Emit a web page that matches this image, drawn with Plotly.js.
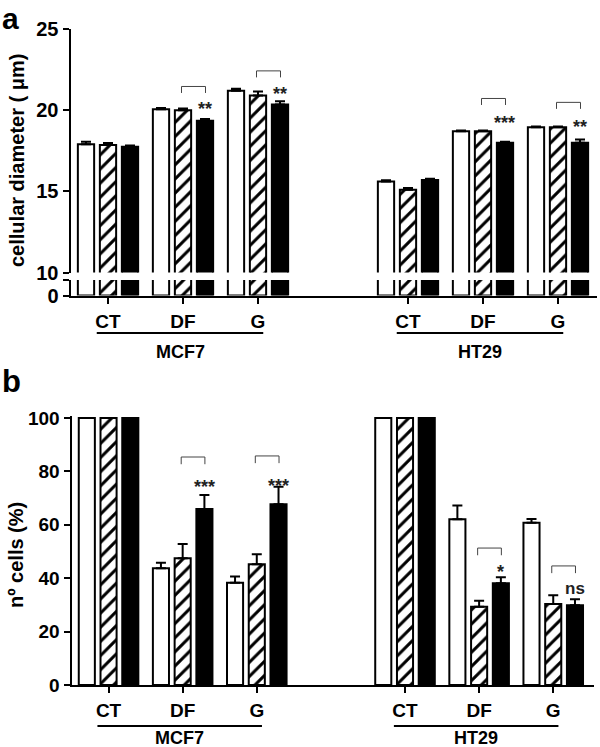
<!DOCTYPE html>
<html>
<head>
<meta charset="utf-8">
<script src="https://cdn.plot.ly/plotly-3.0.1.min.js"></script>
<style>html,body{margin:0;padding:0;background:#fff;}#chart{width:600px;height:747px;}</style>
</head>
<body>
<div id="chart"></div>
<script>
// ---------- data ----------
const cellLines = ["MCF7", "HT29"];
const treatments = ["CT", "DF", "G"];
const xPos = [0, 1, 2, 4, 5, 6];                 // category slots (3 = gap between cell lines)
const xLabels = ["CT", "DF", "G", "CT", "DF", "G"];
const seriesNames = ["Series 1 (white)", "Series 2 (hatched)", "Series 3 (black)"];

// panel a: cellular diameter (µm), mean and SEM
const diamWhite    = [17.9, 20.05, 21.2, 15.6, 18.7, 18.95];
const diamWhiteErr = [0.15, 0.08, 0.12, 0.08, 0.04, 0.04];
const diamHatch    = [17.85, 20.0, 20.9, 15.1, 18.7, 18.95];
const diamHatchErr = [0.12, 0.1, 0.25, 0.1, 0.05, 0.05];
const diamBlack    = [17.75, 19.35, 20.35, 15.7, 18.0, 18.0];
const diamBlackErr = [0.07, 0.1, 0.2, 0.08, 0.06, 0.2];

// panel b: number of cells (%), mean and SEM
const cellsWhite    = [100, 43.7, 38.3, 100, 62.1, 60.8];
const cellsWhiteErr = [0, 2.1, 2.3, 0, 5.1, 1.4];
const cellsHatch    = [100, 47.5, 45.2, 100, 29.3, 30.3];
const cellsHatchErr = [0, 5.3, 3.8, 0, 2.3, 3.3];
const cellsBlack    = [100, 65.9, 67.7, 100, 38.1, 29.9];
const cellsBlackErr = [0, 5.3, 6.6, 0, 2.3, 2.2];

// significance (hatched vs black)
const sigSlots = [1, 2, 5, 6];
const sigA = ["**", "**", "***", "**"];
const sigB = ["***", "***", "*", "ns"];

// ---------- layout helpers ----------
const W = 600, H = 747;
const py = p => 1 - p / H;     // pixel row -> paper y
const px = p => p / W;         // pixel col -> paper x
const FONT = "Arial, 'Liberation Sans', sans-serif";

const bracketTopA = [21.46, 22.42, 20.72, 20.48];
const bracketLegA = 0.4;
const sigLabelYA  = [20.35, 21.32, 19.52, 19.25];
const bracketTopB = [85.4, 85.8, 51.3, 44.6];
const bracketLegB = 2.7;
const sigLabelYB  = [76.2, 76.6, 44.2, 36.3];

function barSet(vals, errs, style, xa, ya, showErr) {
  const base = {
    type: "bar", x: xPos, y: vals, xaxis: xa, yaxis: ya, hoverinfo: "skip",
    marker: { color: style === "black" ? "black" : "white", line: { color: "black", width: 2 } }
  };
  if (style === "hatch") {
    base.marker.pattern = { shape: "/", fgcolor: "black", bgcolor: "white", fgopacity: 1,
                            size: 10, solidity: 0.3, fillmode: "overlay" };
  }
  if (showErr) {
    base.error_y = { type: "data", array: errs, arrayminus: errs.map(() => 0), symmetric: false,
                     color: "black", thickness: 2, width: 5, visible: true };
  }
  return base;
}

const data = [];
const styles = ["white", "hatch", "black"];
const diam = [[diamWhite, diamWhiteErr], [diamHatch, diamHatchErr], [diamBlack, diamBlackErr]];
const cells = [[cellsWhite, cellsWhiteErr], [cellsHatch, cellsHatchErr], [cellsBlack, cellsBlackErr]];
diam.forEach((d, i) => { const t = barSet(d[0], d[1], styles[i], "x", "y2", true); t.name = seriesNames[i]; data.push(t); });
diam.forEach((d, i) => { const t = barSet(d[0], d[1], styles[i], "x", "y", false); t.name = seriesNames[i]; data.push(t); });
cells.forEach((d, i) => { const t = barSet(d[0], d[1], styles[i], "x2", "y3", true); t.name = seriesNames[i]; data.push(t); });

const axisCommon = {
  showline: true, linecolor: "black", linewidth: 2, ticks: "outside", tickcolor: "black",
  tickwidth: 2, ticklen: 6, showgrid: false, zeroline: false, fixedrange: true,
  tickfont: { family: FONT, size: 19, color: "black", weight: "bold" }
};

const layout = {
  width: W, height: H, margin: { l: 0, r: 0, t: 0, b: 0 },
  paper_bgcolor: "white", plot_bgcolor: "white",
  showlegend: false, barmode: "group", bargap: 0.12, bargroupgap: 0.26,
  xaxis: Object.assign({}, axisCommon, {
    domain: [px(70.5), px(597)], range: [-0.5, 6.52], anchor: "y",
    tickmode: "array", tickvals: xPos, ticktext: xLabels, ticklabelstandoff: 2,
    tickfont: { family: FONT, size: 19, color: "black", weight: "bold" }
  }),
  yaxis: Object.assign({}, axisCommon, {
    domain: [py(295.5), py(280)], range: [0, 1], anchor: "x",
    tickmode: "array", tickvals: [0, 1], ticktext: ["0", ""],
    tickfont: { family: FONT, size: 20, color: "black", weight: "bold" }
  }),
  yaxis2: Object.assign({}, axisCommon, {
    domain: [py(272.5), py(29)], range: [10, 25], anchor: "x",
    tickmode: "array", tickvals: [10, 15, 20, 25],
    tickfont: { family: FONT, size: 20, color: "black", weight: "bold" }
  }),
  xaxis2: Object.assign({}, axisCommon, {
    domain: [px(71.5), px(594)], range: [-0.5, 6.55], anchor: "y3",
    tickmode: "array", tickvals: xPos, ticktext: xLabels, ticklabelstandoff: 1,
    tickfont: { family: FONT, size: 19, color: "black", weight: "bold" }
  }),
  yaxis3: Object.assign({}, axisCommon, {
    domain: [py(685), py(415.9)], range: [0, 100.8], anchor: "x2",
    tickmode: "array", tickvals: [0, 20, 40, 60, 80, 100]
  }),
  shapes: [], annotations: []
};

// significance brackets + labels
sigSlots.forEach((s, i) => {
  const x0 = s - 0.02, x1 = s + 0.3;
  const lineStyle = { color: "#444", width: 1 };
  [["x", "y2", bracketTopA[i], bracketLegA, sigA[i], sigLabelYA[i]],
   ["x2", "y3", bracketTopB[i], bracketLegB, sigB[i], sigLabelYB[i]]].forEach(([xr, yr, top, leg, lab, ly]) => {
    layout.shapes.push({ type: "path", xref: xr, yref: yr,
      path: `M ${x0} ${top - leg} L ${x0} ${top} L ${x1} ${top} L ${x1} ${top - leg}`, line: lineStyle });
    const isStar = lab.indexOf("*") >= 0;
    layout.annotations.push({ xref: xr, yref: yr, x: s + 0.29, y: ly, text: lab, showarrow: false,
      xanchor: "center", yanchor: "middle", yshift: isStar ? -5 : 0,
      font: { family: FONT, size: isStar ? 18 : 17, color: "#222", weight: "bold" } });
  });
});

// cell line underlines + names
cellLines.forEach((name, g) => {
  const start = xPos[g * treatments.length], end = xPos[g * treatments.length + treatments.length - 1];
  [["x", 333, 352], ["x2", 726, 738]].forEach(([xr, lineY, textY]) => {
    layout.shapes.push({ type: "line", xref: xr, yref: "paper", x0: start - 0.15, x1: end + 0.07,
      y0: py(lineY), y1: py(lineY), line: { color: "black", width: 2 } });
    layout.annotations.push({ xref: xr, yref: "paper", x: (start - 0.15 + end + 0.07) / 2, y: py(textY),
      text: name, showarrow: false, xanchor: "center", yanchor: "middle",
      font: { family: FONT, size: 18, color: "black", weight: "bold" } });
  });
});

// axis titles and panel letters
layout.annotations.push(
  { xref: "paper", yref: "paper", x: px(17), y: py(161), text: "cellular diameter ( μm)", textangle: -90,
    showarrow: false, xanchor: "center", yanchor: "middle", font: { family: FONT, size: 20, color: "black", weight: "bold" } },
  { xref: "paper", yref: "paper", x: px(16), y: py(555), text: "nº cells (%)", textangle: -90,
    showarrow: false, xanchor: "center", yanchor: "middle", font: { family: FONT, size: 20, color: "black", weight: "bold" } },
  { xref: "paper", yref: "paper", x: px(0), y: 1, text: "a", showarrow: false,
    xanchor: "left", yanchor: "top", font: { family: FONT, size: 30, color: "black", weight: "bold" } },
  { xref: "paper", yref: "paper", x: px(0), y: py(381), text: "b", showarrow: false,
    xanchor: "left", yanchor: "middle", font: { family: FONT, size: 31, color: "black", weight: "bold" } }
);

Plotly.newPlot("chart", data, layout, { staticPlot: true, displayModeBar: false });
</script>
</body>
</html>
